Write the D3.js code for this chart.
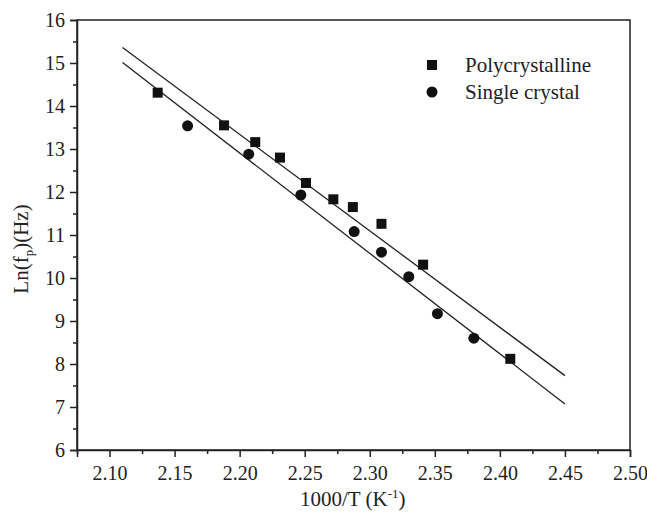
<!DOCTYPE html>
<html>
<head>
<meta charset="utf-8">
<script src="https://d3js.org/d3.v7.min.js"></script>
<style>
body { margin: 0; background: #fff; }
svg text { font-family: "Liberation Serif", "Times New Roman", serif; fill: #222; }
</style>
</head>
<body>
<div id="chart"></div>
<script>
// polycrystalline (squares)
var polyX = [2.137, 2.188, 2.212, 2.231, 2.251, 2.272, 2.287, 2.309, 2.341, 2.408];
var polyY = [14.31, 13.55, 13.16, 12.80, 12.21, 11.83, 11.65, 11.26, 10.31, 8.12];
// single crystal (circles)
var singleX = [2.160, 2.207, 2.247, 2.288, 2.309, 2.330, 2.352, 2.380];
var singleY = [13.54, 12.88, 11.93, 11.08, 10.60, 10.03, 9.17, 8.60];
// fitted lines, end points
var fitX = [2.11, 2.45];
var polyFit = [15.36, 7.73];
var singleFit = [15.01, 7.07];

var xTicks = [2.10, 2.15, 2.20, 2.25, 2.30, 2.35, 2.40, 2.45, 2.50];
var yTicks = [6, 7, 8, 9, 10, 11, 12, 13, 14, 15, 16];

var width = 647, height = 517;
var margin = {left: 77, top: 20, right: 17, bottom: 67};

var svg = d3.select("#chart").append("svg")
    .attr("width", width)
    .attr("height", height);

var x = d3.scaleLinear().domain([2.075, 2.50]).range([margin.left, width - margin.right]);
var y = d3.scaleLinear().domain([6, 16]).range([height - margin.bottom, margin.top]);

// frame
svg.append("rect")
    .attr("x", x(2.075)).attr("y", y(16))
    .attr("width", x(2.50) - x(2.075)).attr("height", y(6) - y(16))
    .attr("fill", "none").attr("stroke", "#222").attr("stroke-width", 1.5);

// x axis
svg.append("g")
    .attr("transform", "translate(0," + y(6) + ")")
    .call(d3.axisBottom(x).tickValues(xTicks).tickSize(7).tickPadding(9).tickFormat(d3.format(".2f")));
svg.append("g")
    .attr("transform", "translate(0," + y(6) + ")")
    .call(d3.axisBottom(x).tickValues(xTicks.map(function(d){ return d - 0.025; })).tickSize(4).tickFormat(""))
    .select(".domain").remove();

// y axis
svg.append("g")
    .attr("transform", "translate(" + x(2.075) + ",0)")
    .call(d3.axisLeft(y).tickValues(yTicks).tickSize(7).tickPadding(5));
svg.append("g")
    .attr("transform", "translate(" + x(2.075) + ",0)")
    .call(d3.axisLeft(y).tickValues(yTicks.slice(1).map(function(d){ return d - 0.5; })).tickSize(4).tickFormat(""))
    .select(".domain").remove();

svg.selectAll("g").attr("font-size", 20).attr("font-family", "Liberation Serif");
svg.selectAll(".domain").attr("stroke", "#222").attr("stroke-width", 1.5);
svg.selectAll(".tick line").attr("stroke", "#222").attr("stroke-width", 1.5);
svg.selectAll(".tick text").attr("fill", "#222");

// fit lines
var line = d3.line().x(function(d){ return x(d[0]); }).y(function(d){ return y(d[1]); });
[polyFit, singleFit].forEach(function(f) {
    svg.append("path")
        .attr("d", line(fitX.map(function(v, i){ return [v, f[i]]; })))
        .attr("fill", "none").attr("stroke", "#222").attr("stroke-width", 1.3);
});

// squares
svg.selectAll("rect.poly")
    .data(polyX)
    .enter().append("rect")
    .attr("class", "poly")
    .attr("x", function(d){ return x(d) - 5; })
    .attr("y", function(d, i){ return y(polyY[i]) - 5; })
    .attr("width", 10).attr("height", 10)
    .attr("fill", "#111");

// circles
svg.selectAll("circle.single")
    .data(singleX)
    .enter().append("circle")
    .attr("class", "single")
    .attr("cx", function(d){ return x(d); })
    .attr("cy", function(d, i){ return y(singleY[i]); })
    .attr("r", 5.5)
    .attr("fill", "#111");

// legend
svg.append("rect").attr("x", 427).attr("y", 60).attr("width", 10).attr("height", 10).attr("fill", "#111");
svg.append("text").attr("x", 465).attr("y", 72).attr("font-size", 21).text("Polycrystalline");
svg.append("circle").attr("cx", 432).attr("cy", 92).attr("r", 5.5).attr("fill", "#111");
svg.append("text").attr("x", 465).attr("y", 99).attr("font-size", 21).text("Single crystal");

// axis titles
var xt = svg.append("text")
    .attr("x", 300).attr("y", 506)
    .attr("font-size", 21);
xt.append("tspan").text("1000/T (K");
xt.append("tspan").attr("dy", -8).attr("font-size", 13).text("-1");
xt.append("tspan").attr("dy", 8).text(")");

var yt = svg.append("text")
    .attr("transform", "translate(28," + 249 + ") rotate(-90)")
    .attr("text-anchor", "middle").attr("font-size", 21);
yt.append("tspan").text("Ln(f");
yt.append("tspan").attr("dy", 5).attr("font-size", 13).text("p");
yt.append("tspan").attr("dy", -5).text(")(Hz)");
</script>
</body>
</html>
